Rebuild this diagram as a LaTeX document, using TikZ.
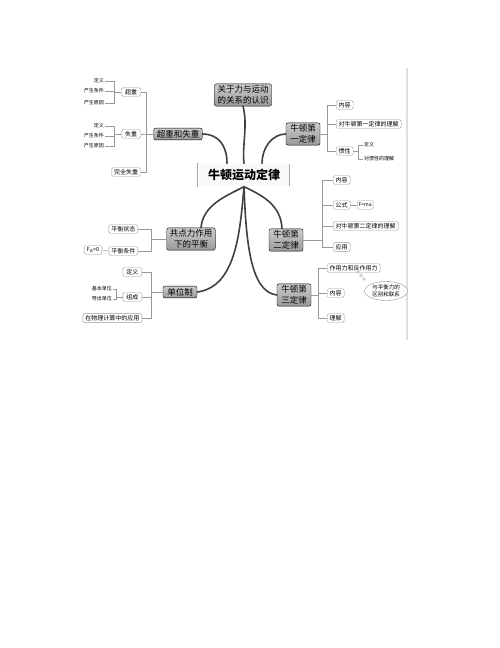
\documentclass[tikz,border=0pt]{standalone}
\usepackage{fontspec}
\setmainfont{Noto Sans CJK SC}
\newfontfamily\cjk{Noto Sans CJK SC}
\usetikzlibrary{shapes.geometric}

\tikzstyle{root}=[rectangle,draw=gray!70,double,double distance=1pt,fill=gray!5,minimum width=92,minimum height=23,font=\fontsize{12}{14}\selectfont\bfseries]
\tikzstyle{topic}=[rectangle,draw=black,rounded corners=2pt,top color=gray!40,bottom color=gray!80,inner sep=2pt,inner xsep=3pt,align=center,font=\fontsize{8.5}{10.5}\selectfont]
\tikzstyle{item}=[rectangle,draw=gray!80,rounded corners=1.5pt,fill=white,inner sep=1.5pt,inner xsep=2.5pt,minimum height=8.5,font=\fontsize{6}{7}\selectfont]
\tikzstyle{leaf}=[inner sep=1pt,font=\fontsize{5}{6}\selectfont]
\tikzstyle{branch}=[line width=1.6pt,black!75,line cap=round]
\tikzstyle{link}=[gray!80,line width=0.5pt]

\begin{document}
\begin{tikzpicture}[x=1pt,y=-1pt]
\useasboundingbox (0,0) rectangle (500,648);
\fill[gray!25] (406,68) rectangle (408,340);

\node[root] (law) at (244,175) {牛顿运动定律};
\node[topic] (cog) at (243,95) {关于力与运动\\的关系的认识};
\node[topic] (czsz) at (178,134) {超重和失重};
\node[topic,minimum width=34] (first) at (303,134) {牛顿第\\一定律};
\node[topic,minimum width=34] (second) at (286,240) {牛顿第\\二定律};
\node[topic,minimum width=34] (third) at (294,295) {牛顿第\\三定律};
\node[topic] (gdl) at (191,239) {共点力作用\\下的平衡};
\node[topic,minimum width=34] (dwz) at (180,292) {单位制};

\draw[branch] (czsz.east) .. controls (218,134) and (227,145) .. ([xshift=-17pt] law.north);
\draw[branch] (cog.south) .. controls (248,125) and (242,145) .. (law.north);
\draw[branch] (first.west) .. controls (272,134) and (262,148) .. ([xshift=18pt] law.north);
\draw[branch] (law.south) .. controls (226,196) and (203,205) .. ([xshift=10pt] gdl.north);
\draw[branch] (law.south) .. controls (264,196) and (281,206) .. ([xshift=-4pt] second.north);
\draw[branch] (law.south) .. controls (240,232) and (236,287) .. (dwz.east);
\draw[branch] (law.south) .. controls (246,240) and (250,292) .. (third.west);

\node[item,minimum width=19] (cz) at (131,92) {超重};
\node[item,minimum width=19] (sz) at (131,134) {失重};
\node[item] (wqsz) at (126,172) {完全失重};
\draw[link] (czsz.west) -- ++(-7,0) |- (cz.east);
\draw[link] (czsz.west) -- ++(-7,0) |- (sz.east);
\draw[link] (czsz.west) -- ++(-7,0) |- (wqsz.east);
\node[leaf,anchor=east] (czdy) at (105,81) {定义};
\node[leaf,anchor=east] (cztj) at (105,91) {产生条件};
\node[leaf,anchor=east] (czyy) at (105,103) {产生原因};
\draw[link] (cz.west) -- ++(-7,0) |- (czdy.east);
\draw[link] (cz.west) -- ++(-7,0) |- (cztj.east);
\draw[link] (cz.west) -- ++(-7,0) |- (czyy.east);
\node[leaf,anchor=east] (szdy) at (105,126) {定义};
\node[leaf,anchor=east] (sztj) at (105,136) {产生条件};
\node[leaf,anchor=east] (szyy) at (105,146) {产生原因};
\draw[link] (sz.west) -- ++(-7,0) |- (szdy.east);
\draw[link] (sz.west) -- ++(-7,0) |- (sztj.east);
\draw[link] (sz.west) -- ++(-7,0) |- (szyy.east);

\node[item,anchor=west] (f1) at (336,105) {内容};
\node[item,anchor=west] (f2) at (336,124) {对牛顿第一定律的理解};
\node[item,anchor=west] (f3) at (336,151) {惯性};
\draw[link] (first.east) -- ++(7,0) |- (f1.west);
\draw[link] (first.east) -- ++(7,0) |- (f2.west);
\draw[link] (first.east) -- ++(7,0) |- (f3.west);
\node[leaf,anchor=west] (gxdy) at (363,145) {定义};
\node[leaf,anchor=west] (gxlj) at (363,159) {对惯性的理解};
\draw[link] (f3.east) -- ++(5,0) |- (gxdy.west);
\draw[link] (f3.east) -- ++(5,0) |- (gxlj.west);

\node[item,anchor=west] (s1) at (333,180) {内容};
\node[item,anchor=west] (s2) at (333,205) {公式};
\node[item,anchor=west] (s3) at (333,226) {对牛顿第二定律的理解};
\node[item,anchor=west] (s4) at (333,247) {应用};
\node[item,anchor=west,inner xsep=1.5pt,font=\fontsize{5}{6}\selectfont] (fma) at (357,205) {\textit{F}=\textit{ma}};
\draw[link] (second.east) -- ++(19,0) |- (s1.west);
\draw[link] (second.east) -- ++(19,0) |- (s2.west);
\draw[link] (second.east) -- ++(19,0) |- (s3.west);
\draw[link] (second.east) -- ++(19,0) |- (s4.west);
\draw[link] (s2.east) -- (fma.west);

\node[item,anchor=west] (t1) at (327,268) {作用力和反作用力};
\node[item,anchor=west] (t2) at (327,293) {内容};
\node[item,anchor=west] (t3) at (327,318) {理解};
\draw[link] (third.east) -- ++(7,0) |- (t1.west);
\draw[link] (third.east) -- ++(7,0) |- (t2.west);
\draw[link] (third.east) -- ++(7,0) |- (t3.west);
\node[ellipse,draw=gray!80,fill=white,inner sep=0pt,minimum width=43,minimum height=19,align=center,font=\fontsize{5.5}{6.5}\selectfont] (diff) at (386,291) {与平衡力的\\区别和联系};
\foreach \x/\y in {358/272,361/275.5,364/279}
  \draw[gray!80,fill=white] (\x,\y) circle (1.4);

\node[item,anchor=east] (g1) at (138,229) {平衡状态};
\node[item,anchor=east] (g2) at (138,251) {平衡条件};
\draw[link] (gdl.west) -- ++(-15,0) |- (g1.east);
\draw[link] (gdl.west) -- ++(-15,0) |- (g2.east);
\node[item,anchor=east,font=\fontsize{5.5}{6.5}\selectfont] (fh) at (102,250) {\textit{F}\raisebox{-0.4ex}{\fontsize{3.5}{4}\selectfont 合}=0};
\draw[link] (fh.east) -- (g2.west);

\node[item,anchor=east,minimum width=19] (d1) at (142,272) {定义};
\node[item,anchor=east,minimum width=19] (d2) at (142,297) {组成};
\node[item,anchor=east] (d3) at (142,318) {在物理计算中的应用};
\draw[link] (dwz.west) -- ++(-12,0) |- (d1.east);
\draw[link] (dwz.west) -- ++(-12,0) |- (d2.east);
\draw[link] (dwz.west) -- ++(-12,0) |- (d3.east);
\node[leaf,anchor=east] (jbdw) at (113,289) {基本单位};
\node[leaf,anchor=east] (dcdw) at (113,299) {导出单位};
\draw[link] (d2.west) -- ++(-6,0) |- (jbdw.east);
\draw[link] (d2.west) -- ++(-6,0) |- (dcdw.east);
\end{tikzpicture}
\end{document}
